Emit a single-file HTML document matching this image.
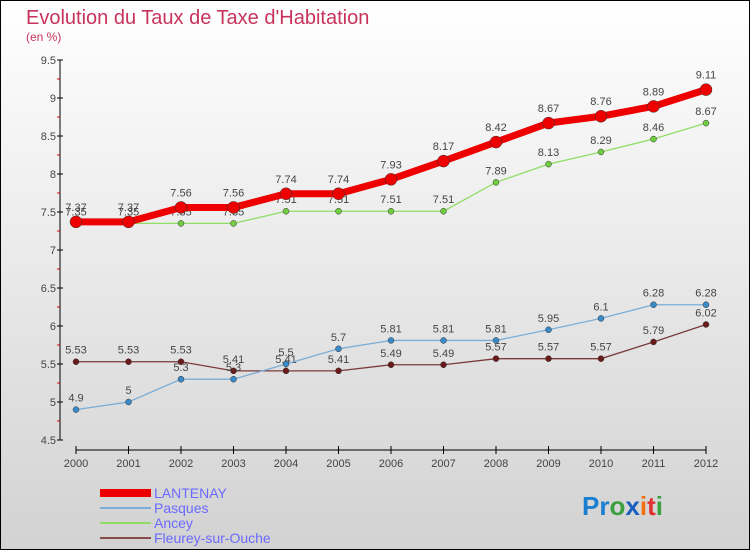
<!DOCTYPE html>
<html><head><meta charset="utf-8"><style>
body{margin:0}
svg{display:block;font-family:"Liberation Sans",sans-serif}
</style></head><body>
<svg id="c" width="750" height="550" viewBox="0 0 750 550">
<defs><linearGradient id="bg" x1="0" y1="0" x2="0" y2="1"><stop offset="0" stop-color="#ffffff"/><stop offset="1" stop-color="#d2d2d2"/></linearGradient></defs>
<rect x="0.5" y="0.5" width="749" height="549" fill="url(#bg)" stroke="#000"/>
<text x="26" y="24" font-size="20" fill="#c8335e">Evolution du Taux de Taxe d'Habitation</text>
<text x="26" y="41" font-size="12" fill="#c8335e">(en %)</text>
<g id="axes"></g><g id="series"></g>
<g>
<rect x="100" y="489" width="51" height="8" fill="#e00"/>
<line x1="100" y1="508" x2="151" y2="508" stroke="#7aaed8" stroke-width="2"/>
<line x1="100" y1="523" x2="151" y2="523" stroke="#90dd66" stroke-width="2"/>
<line x1="100" y1="538" x2="151" y2="538" stroke="#8b4a4a" stroke-width="2"/>
<text x="154" y="498" font-size="14" fill="#6a6aff">LANTENAY</text>
<text x="154" y="513" font-size="14" fill="#6a6aff">Pasques</text>
<text x="154" y="528" font-size="14" fill="#6a6aff">Ancey</text>
<text x="154" y="543" font-size="14" fill="#6a6aff">Fleurey-sur-Ouche</text>
</g>
<g font-size="26" font-weight="bold">
<text x="582" y="515"><tspan fill="#1a7fd0">Pr</tspan><tspan fill="#3aa040">o</tspan><tspan fill="#1a5fc0">x</tspan><tspan fill="#f07010">i</tspan><tspan fill="#e03030">t</tspan><tspan fill="#3aa040">i</tspan></text>
</g>
</svg>
<script>
const years=[2000,2001,2002,2003,2004,2005,2006,2007,2008,2009,2010,2011,2012];
const lantenay=[7.37,7.37,7.56,7.56,7.74,7.74,7.93,8.17,8.42,8.67,8.76,8.89,9.11];
const pasques=[4.9,5,5.3,5.3,5.5,5.7,5.81,5.81,5.81,5.95,6.1,6.28,6.28];
const ancey=[7.35,7.35,7.35,7.35,7.51,7.51,7.51,7.51,7.89,8.13,8.29,8.46,8.67];
const fleurey=[5.53,5.53,5.53,5.41,5.41,5.41,5.49,5.49,5.57,5.57,5.57,5.79,6.02];
const yTicks=[4.5,5,5.5,6,6.5,7,7.5,8,8.5,9,9.5];
const NS="http://www.w3.org/2000/svg";
const X=i=>76+i*(706-76)/(years.length-1);
const Y=v=>440-(v-4.5)*(440-60)/5;
function mk(t,a,p){const e=document.createElementNS(NS,t);for(const k in a)e.setAttribute(k,a[k]);p.appendChild(e);return e;}
const ax=document.getElementById('axes');
let yl=mk('line',{x1:60,y1:60,x2:60,y2:440,stroke:'#000'},ax);


let xl=mk('line',{x1:76,y1:450,x2:706,y2:450,stroke:'#000'},ax);


yTicks.forEach((t,i)=>{
  mk('line',{x1:57,y1:Y(t),x2:63,y2:Y(t),stroke:'#000'},ax);
  if(i<yTicks.length-1)mk('line',{x1:57,y1:Y(t+0.25),x2:60,y2:Y(t+0.25),stroke:'#d00'},ax);
  const tx=mk('text',{x:56,y:Y(t)+4,'font-size':11,fill:'#444','text-anchor':'end'},ax);
  tx.textContent=String(t);
  
  
});
years.forEach((y,i)=>{
  mk('line',{x1:X(i),y1:446,x2:X(i),y2:454,stroke:'#000'},ax);
  const tx=mk('text',{x:X(i),y:467,'font-size':11,fill:'#444','text-anchor':'middle'},ax);
  tx.textContent=String(y);
  
  
});
const sg=document.getElementById('series');
function draw(vals,name,color,w,r,dot,labOff){
  const g=mk('g',{},sg);
  
  
  mk('polyline',{points:vals.map((v,i)=>X(i)+','+Y(v)).join(' '),fill:'none',stroke:color,'stroke-width':w},g);
  vals.forEach((v,i)=>{
    const c=mk('circle',{cx:X(i),cy:Y(v),r:r,fill:dot,stroke:'#333','stroke-width':0.5},g);
    
    
    const t=mk('text',{x:X(i),y:Y(v)+labOff,'font-size':11,fill:'#444','text-anchor':'middle'},g);
    t.textContent=String(v);
    
    
  });
}
draw(fleurey,'fleurey','#7a3a3a',1.3,3,'#6b1a1a',-8);
draw(pasques,'pasques','#7aaed8',1.3,3,'#3a8ac8',-8);
draw(ancey,'ancey','#90dd66',1.3,3,'#70cc40',-8);
draw(lantenay,'lantenay','#ee0000',7,6,'#ee0000',-11);
</script>
</body></html>
